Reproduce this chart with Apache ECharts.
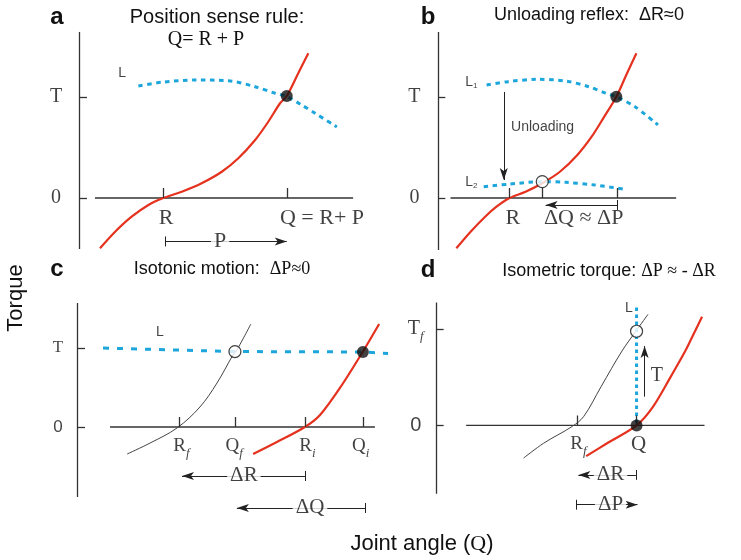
<!DOCTYPE html>
<html><head><meta charset="utf-8">
<script src="https://cdn.jsdelivr.net/npm/echarts@6/dist/echarts.min.js"></script>
<style>html,body{margin:0;padding:0;background:#fff}#c{width:741px;height:560px}</style>
</head><body><div id="c"></div>
<script>
// ---------- DATA (x: joint angle units, y: torque units, T = 10) ----------
// Panel a
const aRed = [[7.5,-4.98],[12.9,-3.34],[18.8,-1.85],[24.8,-0.69],[30.1,0],[36.7,0.62],[43.8,1.46],[51.0,2.6],[56.9,3.93],[62.9,5.74],[67.6,7.55],[71.8,9.38],[74.2,10.1],[78.3,12.35],[81.9,14.33]];
const aLoad = [[21.2,11.09],[29.5,11.46],[41.4,11.68],[53.3,11.61],[62.9,11.02],[70,10.37],[74.2,10.05],[79.5,9.21],[84.3,8.39],[92.1,7.03]];
const aFilled = [[74.2,10.1]];
const aOpen = [];
const aAxisX = [5.7, 97.9];
const aAxisY = [-5.05, 16.44];
const aYTicks = [10, 0];
const aYLabels = ['{R20|T}', '{R20|0}'];
const aXTicks = [30.1, 74.2];
const aXLabels = [[31.1,'{R22|R}'],[86.8,'{R22|Q = R+ P}']];
const aArrows = [[30.7,-4.3,74.2,-4.3,1,1]];
const aArrowText = [[50.4,-4.3,'{R22|P}']];
const aNotes = [[15.4,12.4,'{S14|L}']];

// Panel b
const bRed = [[7.4,-4.98],[13.3,-3.34],[19.3,-1.85],[24.0,-0.86],[29.4,0],[36.0,0.62],[42.9,1.46],[50.2,2.6],[57.4,4.26],[63.3,6.07],[68.1,7.89],[73.5,10.03],[77.6,12.18],[81.8,14.33]];
const bLoad1 = [[19.9,11.19],[28.8,11.52],[40.7,11.75],[52.6,11.58],[62.1,11.02],[69.3,10.37],[73.5,10.03],[81.2,9.04],[90.7,7.23]];
const bLoad2 = [[18.7,1.12],[28.8,1.36],[42.9,1.62],[52.6,1.55],[64.5,1.29],[76.2,0.89]];
const bFilled = [[73.5,10.03]];
const bOpen = [[42.9,1.62]];
const bAxisX = [5, 98.2];
const bAxisY = [-5.15, 16.44];
const bYTicks = [10, 0];
const bYLabels = ['{R20|T}', '{R20|0}'];
const bXTicks = [29.4, 43.1, 73.8];
const bXLabels = [[30.7,'{R22|R}'],[60,'{R22|ΔQ ≈ ΔP}']];
const bArrows = [[73.8,-0.69,44.3,-0.69,1,1],[27,10.5,27,1.78,0,1]];
const bArrowText = [];
const bNotes = [[13.6,11.5,'{S14|L}{ns|1}'],[13.6,1.58,'{S14|L}{ns|2}'],[30,7.06,'{S14|Unloading}','l']];

// Panel c
const cGray = [[17.9,-3.42],[26.1,-2.03],[35.7,-0.13],[43.9,2.53],[50,5.57],[55.7,9.11],[57.1,9.75],[62.1,13.04]];
const cRed = [[62.9,-3.42],[71.4,-1.9],[81.4,0],[86.8,1.52],[93.9,4.94],[101.8,9.37],[107.9,13.04]];
const cLoad = [[9.3,10.0],[56.4,9.55],[102.1,9.5],[111.1,9.3]];
const cFilled = [[102.1,9.5]];
const cOpen = [[56.4,9.55]];
const cAxisX = [11.8, 106.4];
const cAxisY = [-8.86, 15.7];
const cYTicks = [10, 0];
const cYLabels = ['{R17|T}', '{S17|0}'];
const cXTicks = [36.4, 56.4, 81.4, 102.1];
const cXLabels = [[37.3,'{R19|R}{fi|f}'],[56.1,'{R19|Q}{fi|f}'],[82.3,'{R19|R}{fi|i}'],[101.3,'{R19|Q}{fi|i}']];
const cArrows = [[81.4,-6.2,37.5,-6.2,1,1],[102.9,-10.25,57.1,-10.25,1,1]];
const cArrowText = [[59.6,-6.2,'{R21|ΔR}'],[83.2,-10.25,'{R21|ΔQ}']];
const cNotes = [[29.6,12.0,'{S14|L}']];

// Panel d
const dGray = [[35.7,-3.4],[43.9,-1.86],[55.7,-0.1],[60.4,0.93],[67.5,4.02],[76.1,7.73],[81.8,9.79],[86.8,11.55]];
const dRed = [[61.4,-3.2],[70,-1.86],[82.1,0],[88.9,1.96],[96.1,5.05],[102.1,7.73],[106.1,9.79],[109,11.3]];
const dLoad = [[82.1,12.27],[82.1,0]];
const dFilled = [[82.1,0]];
const dOpen = [[82.1,9.79]];
const dAxisX = [12.1, 110];
const dAxisY = [-7.11, 12.78];
const dYTicks = [10, 0];
const dYLabels = ['{R20|T}{fi|f}', '{S20|0}'];
const dXTicks = [57.9, 82.1];
const dXLabels = [[58.2,'{R19|R}{fi|f}'],[82.9,'{R21|Q}']];
const dArrows = [[81.8,-5.15,58.2,-5.15,1,1],[57.5,-8.25,82.5,-8.25,1,1],[85.4,2.99,85.4,8.25,0,1]];
const dArrowText = [[71.4,-5.15,'{R21|ΔR}'],[71.4,-8.25,'{R21|ΔP}']];
const dNotes = [[78.9,12.2,'{S14|L}'],[90.4,5.15,'{R20|T}']];

// ---------- LAYOUT / STYLE ----------
const FS = '"Liberation Sans", Arial, sans-serif';
const FR = '"Liberation Serif", "Times New Roman", serif';
const RED = '#E5321F', BLUE = '#1CA6DC', GRAY = '#444', INK = '#111', AX = '#333';
const LAYOUT = [
  {left:79,  zeroY:198, sx:2.8, sy:10.1, yLabDx:-23, xLabDy:20, dash:[4.5,4.5]},
  {left:446, zeroY:198, sx:2.8, sy:10.1, yLabDx:-24, xLabDy:20, dash:[4.5,4.5]},
  {left:77,  zeroY:427, sx:2.8, sy:7.9,  yLabDx:-19, xLabDy:19, dash:[6,8]},
  {left:444, zeroY:427, sx:2.8, sy:9.7,  yLabDx:-21, xLabDy:19, dash:[3.5,3.5]}
];
const X0 = -20, X1 = 125, Y0 = -14, Y1 = 19;

const PANELS = [
  {red:aRed, gray:null, loads:[aLoad], smoothLoad:true, filled:aFilled, open:aOpen, axisX:aAxisX, axisY:aAxisY, yTicks:aYTicks, yLabels:aYLabels, xTicks:aXTicks, xLabels:aXLabels, arrows:aArrows, arrowText:aArrowText, notes:aNotes},
  {red:bRed, gray:null, loads:[bLoad1,bLoad2], smoothLoad:true, filled:bFilled, open:bOpen, axisX:bAxisX, axisY:bAxisY, yTicks:bYTicks, yLabels:bYLabels, xTicks:bXTicks, xLabels:bXLabels, arrows:bArrows, arrowText:bArrowText, notes:bNotes},
  {red:cRed, gray:cGray, loads:[cLoad], smoothLoad:false, filled:cFilled, open:cOpen, axisX:cAxisX, axisY:cAxisY, yTicks:cYTicks, yLabels:cYLabels, xTicks:cXTicks, xLabels:cXLabels, arrows:cArrows, arrowText:cArrowText, notes:cNotes},
  {red:dRed, gray:dGray, loads:[dLoad], smoothLoad:false, filled:dFilled, open:dOpen, axisX:dAxisX, axisY:dAxisY, yTicks:dYTicks, yLabels:dYLabels, xTicks:dXTicks, xLabels:dXLabels, arrows:dArrows, arrowText:dArrowText, notes:dNotes}
];

const RICH = {
  R22:{fontFamily:FR,fontSize:22,lineHeight:24,color:INK},
  R21:{fontFamily:FR,fontSize:21,lineHeight:22,color:INK},
  R20:{fontFamily:FR,fontSize:20,lineHeight:28,color:INK},
  R19:{fontFamily:FR,fontSize:19,lineHeight:28,color:INK},
  R17:{fontFamily:FR,fontSize:17,lineHeight:20,color:INK},
  R18:{fontFamily:FR,fontSize:18,lineHeight:22,color:INK},
  S20:{fontFamily:FS,fontSize:20,lineHeight:24,color:INK},
  S18:{fontFamily:FS,fontSize:18,lineHeight:22,color:INK},
  S17:{fontFamily:FS,fontSize:17,lineHeight:20,color:INK},
  S14:{fontFamily:FS,fontSize:14,lineHeight:16,color:INK},
  S13:{fontFamily:FS,fontSize:13,lineHeight:14,color:INK},
  fi:{fontFamily:FR,fontSize:13,fontStyle:'italic',lineHeight:13,verticalAlign:'bottom',color:INK},
  ns:{fontFamily:FS,fontSize:8,lineHeight:8,verticalAlign:'bottom',color:INK}
};

const grids = [], xAxes = [], yAxes = [], series = [];
PANELS.forEach((P, i) => {
  const L = LAYOUT[i];
  grids.push({left: L.left + X0*L.sx, width: (X1-X0)*L.sx, top: L.zeroY - Y1*L.sy, height: (Y1-Y0)*L.sy});
  xAxes.push({type:'value', gridIndex:i, min:X0, max:X1, show:false});
  yAxes.push({type:'value', gridIndex:i, min:Y0, max:Y1, show:false});
  const tx = 8 / L.sx, ty = 10 / L.sy, bh = 5 / L.sy;
  const ml = [];
  ml.push([{coord:[0,P.axisY[0]]},{coord:[0,P.axisY[1]]}]);
  P.yTicks.forEach(v => ml.push([{coord:[0,v]},{coord:[tx,v]}]));
  P.xTicks.forEach(v => ml.push([{coord:[v,0]},{coord:[v,ty]}]));
  P.arrows.forEach(a => {
    ml.push([{coord:[a[0],a[1]], symbol:'none', lineStyle:{color:'#222',width:1}},
             {coord:[a[2],a[3]], symbol: a[5] ? 'arrow' : 'none', symbolSize:[6,12]}]);
    if (a[4]) ml.push([{coord:[a[0],a[1]-bh], lineStyle:{color:'#222',width:1}},{coord:[a[0],a[1]+bh]}]);
  });
  series.push({type:'line', xAxisIndex:i, yAxisIndex:i, z:2, silent:true, clip:false, animation:false,
    data:[[P.axisX[0],0],[P.axisX[1],0]], symbol:'none', lineStyle:{color:AX,width:1.3},
    markLine:{silent:true, animation:false, symbol:'none', label:{show:false}, emphasis:{disabled:true},
      lineStyle:{color:AX,width:1.3,type:'solid'}, data:ml}});
  if (P.gray) series.push({type:'line', xAxisIndex:i, yAxisIndex:i, z:3, silent:true, clip:false, animation:false,
    data:P.gray, smooth:0.35, symbol:'none', lineStyle:{color:GRAY,width:1}});
  series.push({type:'line', xAxisIndex:i, yAxisIndex:i, z:3, silent:true, clip:false, animation:false,
    data:P.red, smooth:0.3, symbol:'none', lineStyle:{color:RED,width:2.2}});
  P.loads.forEach(ld => series.push({type:'line', xAxisIndex:i, yAxisIndex:i, z:4, silent:true, clip:false, animation:false,
    data:ld, smooth:P.smoothLoad ? 0.3 : false, symbol:'none', lineStyle:{color:BLUE,width:3,type:L.dash,cap:'butt'}}));
  series.push({type:'scatter', xAxisIndex:i, yAxisIndex:i, z:6, silent:true, clip:false, animation:false,
    data:P.filled, symbol:'circle', symbolSize:12, itemStyle:{color:INK}});
  series.push({type:'scatter', xAxisIndex:i, yAxisIndex:i, z:6, silent:true, clip:false, animation:false,
    data:P.open, symbol:'circle', symbolSize:12, itemStyle:{color:'#fff', borderColor:INK, borderWidth:1.2}});
  const labs = [];
  P.yTicks.forEach((v, k) => labs.push({value:[0,v], label:{formatter:P.yLabels[k], offset:[L.yLabDx,0]}}));
  P.xLabels.forEach(t => labs.push({value:[t[0],0], label:{formatter:t[1], offset:[0,L.xLabDy]}}));
  P.arrowText.forEach(t => labs.push({value:[t[0],t[1]], label:{formatter:t[2], backgroundColor:'#fff', padding:[0,3]}}));
  P.notes.forEach(t => labs.push({value:[t[0],t[1]], label: t[3] ? {formatter:t[2], position:'right', distance:0} : {formatter:t[2]}}));
  series.push({type:'scatter', xAxisIndex:i, yAxisIndex:i, z:8, silent:true, clip:false, animation:false,
    data:labs, symbolSize:0.1, itemStyle:{color:'rgba(0,0,0,0)'},
    label:{show:true, position:'inside', color:INK, rich:RICH}});
});

function txt(x, y, text, extra) {
  return Object.assign({type:'text', x:x, y:y, silent:true,
    style:Object.assign({text:text, fill:INK, align:'center', verticalAlign:'middle', rich:RICH}, (extra||{}))});
}
const bold = {fontFamily:FS, fontSize:24, fontWeight:'bold'};
const graphic = [
  txt(57, 17, 'a', bold), txt(428, 17, 'b', bold), txt(57, 269, 'c', bold), txt(428, 270, 'd', bold),
  txt(217, 17, 'Position sense rule:', {fontFamily:FS, fontSize:20}),
  txt(206, 40, 'Q= R + P', {fontFamily:FR, fontSize:20}),
  txt(589, 15, '{S18|Unloading reflex:  ΔR≈0}'),
  txt(222, 269, '{S18|Isotonic motion:  }{R18|ΔP≈0}'),
  txt(609, 271, '{S18|Isometric torque: }{R18|ΔP ≈ - ΔR}'),
  txt(422, 544, '{AX|Joint angle (}{AQ|Q}{AX|)}', {rich:{AX:{fontFamily:FS,fontSize:22,color:INK},AQ:{fontFamily:FR,fontSize:22,color:INK}}}),
  Object.assign(txt(16, 298, 'Torque', {fontFamily:FS, fontSize:22}), {rotation:Math.PI/2})
];

const chart = echarts.init(document.getElementById('c'), null, {renderer:'canvas'});
chart.setOption({animation:false, backgroundColor:'#fff', grid:grids, xAxis:xAxes, yAxis:yAxes, series:series, graphic:graphic});
</script>
</body></html>
